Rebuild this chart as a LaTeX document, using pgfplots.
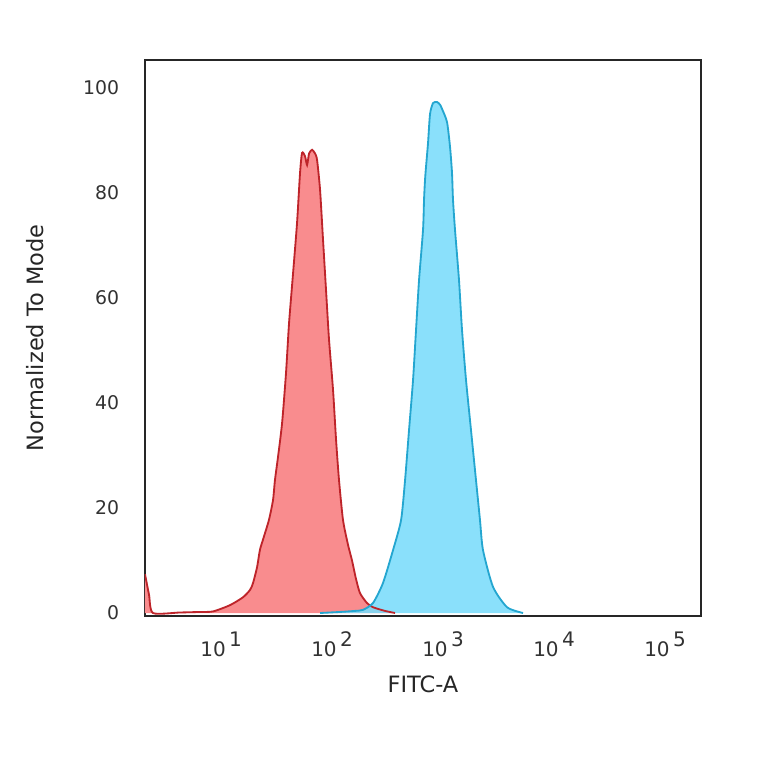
\documentclass[border=0pt]{standalone}
\usepackage{pgfplots}
\pgfplotsset{compat=1.18}
\usepackage{pgfplotstable}
\usepackage{fontspec}
\setmainfont{DejaVu Sans}
\definecolor{redfill}{RGB}{249,140,142}
\definecolor{redline}{RGB}{190,36,42}
\definecolor{bluefill}{RGB}{122,220,250}
\definecolor{blueline}{RGB}{36,166,208}
\definecolor{ticktext}{RGB}{50,50,50}

\pgfplotstableread{
x y
2.065 7.4
2.244 3.5
2.438 0
4.27 0.1
6.47 0.2
8.47 0.3
12.05 1.5
15.78 3.0
18.25 4.4
19.42 5.7
21.1 8.7
22.4 12
23.9 14
27.0 17.7
29.4 21.5
30.6 25.3
32.6 29.7
35.5 36.2
38.5 45.7
41.0 55.2
44.6 64.8
48.4 74.3
51.5 83.8
53.7 87.6
57.1 87.0
59.6 85.3
62.1 87.5
66.1 88.2
70.3 87.5
73.3 86.3
78.0 80.6
83.0 71
88.3 61.5
94.0 52
102.1 42.5
108.7 33
115.6 25.3
125.6 17.7
139.3 13
151.4 10
164.4 6.5
178.6 3.8
206.5 1.9
233.9 1.1
300 0.4
369.8 0
}\redtable

\pgfplotstableread{
x y
78.0 0
118.0 0.2
161.1 0.4
190.1 0.6
233.9 1.9
287.7 5.7
354.8 12
418.8 17.7
455.0 25.3
494.3 34.9
537.0 44.4
571.2 53.9
608.1 63.4
660.7 73
674.5 78.7
688.6 82.5
703.1 85
732.8 89.5
763.8 95
812.8 97.1
883.1 97.3
939.7 96.8
979.5 96
1086 93.5
1156 88.8
1205 83.8
1230 78.7
1282 73
1393 63.4
1483 53.9
1611 44.4
1786 34.9
1982 25.3
2153 17.7
2291 12
2818 5
3776 1.1
5260 0
}\bluetable

\begin{document}
\begin{tikzpicture}
\path[use as bounding box] (0,0) rectangle (458.4pt,458.4pt);
\begin{axis}[
  at={(87pt,88.8pt)}, anchor=south west,
  scale only axis, width=333.6pt, height=333.6pt,
  xmode=log, log basis x=10,
  xmin=2.065, xmax=2.11e5,
  ymin=-0.57, ymax=105.3,
  axis line style={draw=black!85, line width=1.2pt},
  major tick length=0pt,
  xminorticks=false,
  xtick={10,100,1000,10000,100000},
  xticklabels={10\,\raisebox{0.5em}{1},10\,\raisebox{0.5em}{2},10\,\raisebox{0.5em}{3},10\,\raisebox{0.5em}{4},10\,\raisebox{0.5em}{5}},
  ytick={0,20,40,60,80,100},
  yticklabels={0,20,40,60,80,100},
  ticklabel style={text=ticktext},
  xticklabel style={font=\fontsize{12}{13}\selectfont, anchor=north, yshift=-6pt},
  yticklabel style={font=\fontsize{11.3}{12}\selectfont, anchor=east, xshift=-12pt},
  xlabel={FITC-A},
  ylabel={Normalized To Mode},
  label style={font=\fontsize{13.5}{15}\selectfont, text=black!85},
  xlabel style={at={(axis description cs:0.5,-0.1223)}, anchor=center},
  ylabel style={at={(axis description cs:-0.198,0.5)}, anchor=center, rotate=0},
  clip=true,
]
\addplot[draw=none, fill=redfill, smooth, tension=0.4] table[x=x,y=y] {\redtable} \closedcycle;
\addplot[draw=none, fill=bluefill, fill opacity=0.88, smooth, tension=0.4] table[x=x,y=y] {\bluetable} \closedcycle;
\addplot[redline, line width=1.1pt, smooth, tension=0.4] table[x=x,y=y] {\redtable};
\addplot[blueline, line width=1.1pt, smooth, tension=0.4] table[x=x,y=y] {\bluetable};
\end{axis}
\end{tikzpicture}
\end{document}
